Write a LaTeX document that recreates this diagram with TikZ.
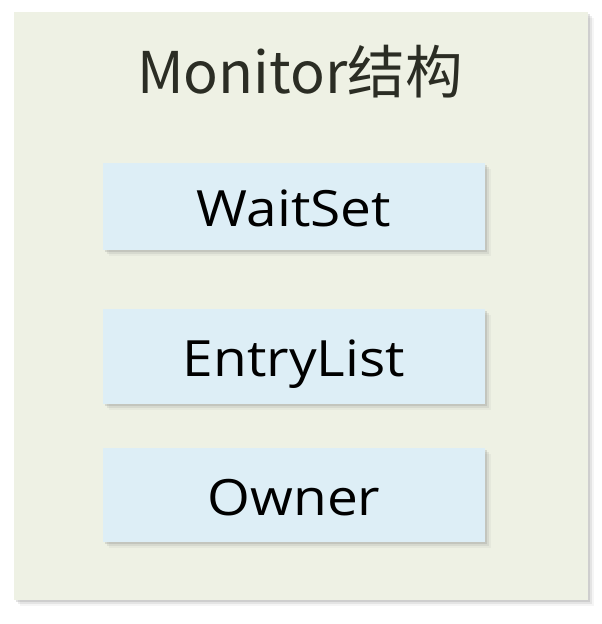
\documentclass[tikz,border=0pt]{standalone}
\usepackage{fontspec}
\setmainfont{Open Sans}
\newfontfamily\boxfont[FakeStretch=1.1]{Open Sans}
\newfontfamily\cjkfont{Noto Sans CJK SC}
\usetikzlibrary{shadows}
\definecolor{outerfill}{HTML}{EEF1E4}
\definecolor{boxfill}{HTML}{DDEEF6}
\definecolor{titlecol}{HTML}{2B2D24}
\tikzset{
  x=1pt, y=-1pt,
  softshadow/.style={
    drop shadow={opacity=.08, shadow xshift=6pt, shadow yshift=-6pt},
    drop shadow={opacity=.14, shadow xshift=4pt, shadow yshift=-4pt},
    drop shadow={opacity=.22, shadow xshift=2pt, shadow yshift=-2pt}},
  entrybox/.style={draw=none, fill=boxfill, softshadow, minimum width=382pt,
    inner sep=0pt, text height=40pt, text depth=0pt, font=\boxfont\fontsize{50}{50}\selectfont}
}
\begin{document}
\begin{tikzpicture}
\useasboundingbox (0,0) rectangle (602,624);
\fill[white] (0,0) rectangle (602,624);
\node[draw=none, fill=outerfill, softshadow, minimum width=574pt, minimum height=588pt, inner sep=0pt] (outer) at (301,306) {};
\node[anchor=base, text=titlecol, font=\cjkfont\fontsize{57.5}{57.5}\selectfont] (title) at (300,93) {Monitor结构};
\node[entrybox, minimum height=87pt] (waitset) at (294,206.5) {WaitSet};
\node[entrybox, minimum height=95pt] (entrylist) at (294,356.5) {EntryList};
\node[entrybox, minimum height=94pt] (owner) at (294,495) {Owner};
\end{tikzpicture}
\end{document}
